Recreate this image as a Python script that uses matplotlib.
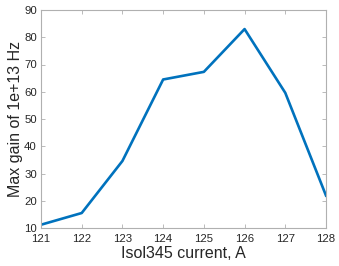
import matplotlib
matplotlib.use("Agg")
import matplotlib.pyplot as plt

current = [121, 122, 123, 124, 125, 126, 127, 128]
gain = [11.2, 15.5, 34.6, 64.5, 67.3, 83.0, 59.6, 21.9]
xticks = [121, 122, 123, 124, 125, 126, 127, 128]
yticks = [10, 20, 30, 40, 50, 60, 70, 80, 90]

plt.rcParams['font.family'] = ['Liberation Sans', 'DejaVu Sans']
fig = plt.figure(figsize=(3.39, 2.66), dpi=100)
ax = fig.add_axes([41/339, 1 - 228/266, (326-41)/339, (228-10)/266])
ax.plot(current, gain, color='#0072BD', linewidth=1.9)
ax.set_xlim(121, 128)
ax.set_ylim(10, 90)
ax.set_xticks(xticks)
ax.set_yticks(yticks)
for s in ax.spines.values():
    s.set_color('#b0b0b0')
    s.set_linewidth(0.8)
ax.tick_params(direction='in', top=True, right=True, length=3, width=0.6,
               colors='#b0b0b0', labelcolor='#262626', labelsize=8.2)
ax.tick_params(axis='x', pad=4.5)
ax.tick_params(axis='y', pad=3)
ax.set_xlabel('Isol345 current, A', fontsize=11.5, color='#262626', labelpad=1)
ax.set_ylabel('Max gain of 1e+13 Hz', fontsize=11.5, color='#262626', labelpad=0.5)
fig.savefig('out.png', dpi=100)
